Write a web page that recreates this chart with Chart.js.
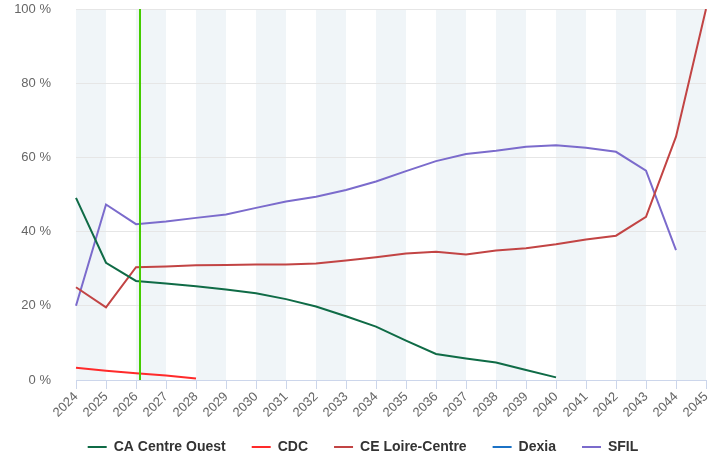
<!DOCTYPE html>
<html>
<head>
<meta charset="utf-8">
<script src="https://cdn.jsdelivr.net/npm/chart.js@4"></script>
<style>
    html, body { margin: 0; padding: 0; background: #fff; }
    #wrap { width: 709px; height: 458px; }
</style>
</head>
<body>
<div id="wrap"><canvas id="chart"></canvas></div>
<script>
// années (axe X)
const years = ['2024', '2025', '2026', '2027', '2028', '2029', '2030', '2031', '2032', '2033', '2034',
               '2035', '2036', '2037', '2038', '2039', '2040', '2041', '2042', '2043', '2044', '2045'];

// parts en % par prêteur
const caCentreOuest = [49.1, 31.6, 26.7, 26.0, 25.3, 24.4, 23.4, 21.8, 19.8, 17.2, 14.4,
                       10.6, 7.0, 5.8, 4.7, 2.7, 0.7, null, null, null, null, null];
const cdc = [3.3, 2.5, 1.8, 1.2, 0.4, null, null, null, null, null, null,
             null, null, null, null, null, null, null, null, null, null, null];
const ceLoireCentre = [25.0, 19.6, 30.4, 30.6, 30.9, 31.0, 31.1, 31.1, 31.4, 32.2, 33.1,
                       34.1, 34.6, 33.8, 34.9, 35.5, 36.6, 37.9, 38.9, 44.0, 65.6, 100];
const dexia = [];
const sfil = [20.0, 47.3, 42.0, 42.7, 43.7, 44.6, 46.4, 48.1, 49.4, 51.2, 53.5,
              56.3, 59.0, 60.9, 61.8, 62.9, 63.3, 62.6, 61.5, 56.4, 35.0, null];

// graduations de l'axe Y
const yTicks = [0, 20, 40, 60, 80, 100];

// position de la ligne verticale (date du jour)
const markerYear = 2026.13;

const FONT = '"Liberation Sans", Arial, sans-serif';

// bandes alternées en fond
const bandsPlugin = {
    id: 'bands',
    beforeDraw(chart) {
        const { ctx, chartArea, scales } = chart;
        ctx.save();
        ctx.fillStyle = '#f0f5f8';
        for (let i = 0; i < years.length - 1; i += 2) {
            const x1 = scales.x.getPixelForValue(i);
            const x2 = scales.x.getPixelForValue(i + 1);
            ctx.fillRect(x1, chartArea.top, x2 - x1, chartArea.bottom - chartArea.top);
        }
        ctx.restore();
    }
};

// ligne verticale verte
const markerPlugin = {
    id: 'marker',
    afterDatasetsDraw(chart) {
        const { ctx, chartArea, scales } = chart;
        const x = Math.round(scales.x.getPixelForValue(markerYear - Number(years[0])));
        ctx.save();
        ctx.strokeStyle = '#44cc00';
        ctx.lineWidth = 2;
        ctx.beginPath();
        ctx.moveTo(x, chartArea.top);
        ctx.lineTo(x, chartArea.bottom);
        ctx.stroke();
        ctx.restore();
    }
};

function makeSet(label, data, color) {
    return {
        label: label,
        data: data,
        borderColor: color,
        backgroundColor: color,
        borderWidth: 2,
        pointRadius: 0,
        pointHoverRadius: 0,
        tension: 0,
        spanGaps: false,
        fill: false
    };
}

// pas de découpage des libellés d'axe
const noLabelClip = scale => { scale._computeLabelArea = () => null; };

const ctx = document.getElementById('chart').getContext('2d');
new Chart(ctx, {
    type: 'line',
    data: {
        labels: years,
        datasets: [
            makeSet('CA Centre Ouest', caCentreOuest, '#0f6b46'),
            makeSet('CDC', cdc, '#ff2a2a'),
            makeSet('CE Loire-Centre', ceLoireCentre, '#c24444'),
            makeSet('Dexia', dexia, '#1b72c6'),
            makeSet('SFIL', sfil, '#7b6bcc')
        ]
    },
    plugins: [bandsPlugin, markerPlugin],
    options: {
        responsive: true,
        maintainAspectRatio: false,
        animation: false,
        layout: { padding: { top: 9, right: 3, left: 20, bottom: -6 } },
        plugins: {
            tooltip: { enabled: false },
            legend: {
                position: 'bottom',
                labels: {
                    usePointStyle: true,
                    pointStyle: 'line',
                    pointStyleWidth: 19,
                    padding: 26,
                    color: '#333',
                    font: { family: FONT, size: 14, weight: 'bold' }
                }
            }
        },
        scales: {
            x: {
                type: 'category',
                offset: false,
                afterFit: scale => {
                    scale.height = 34;
                    scale.paddingLeft = 0;
                    scale.paddingRight = 0;
                    noLabelClip(scale);
                },
                grid: {
                    display: true,
                    drawOnChartArea: false,
                    drawTicks: true,
                    tickLength: 9,
                    color: '#ccd6eb'
                },
                border: { color: '#ccd6eb' },
                ticks: {
                    autoSkip: false,
                    maxRotation: 45,
                    minRotation: 45,
                    padding: 0,
                    color: '#666',
                    font: { family: FONT, size: 13 }
                }
            },
            y: {
                min: 0,
                max: 100,
                afterBuildTicks: scale => { scale.ticks = yTicks.map(v => ({ value: v })); },
                afterFit: scale => {
                    scale.width = 56;
                    scale.paddingTop = 0;
                    scale.paddingBottom = 0;
                    noLabelClip(scale);
                },
                grid: { color: '#e6e6e6', drawTicks: false },
                border: { display: false },
                ticks: {
                    padding: 25,
                    color: '#666',
                    font: { family: FONT, size: 13 },
                    callback: v => v + ' %'
                }
            }
        }
    }
});
</script>
</body>
</html>
